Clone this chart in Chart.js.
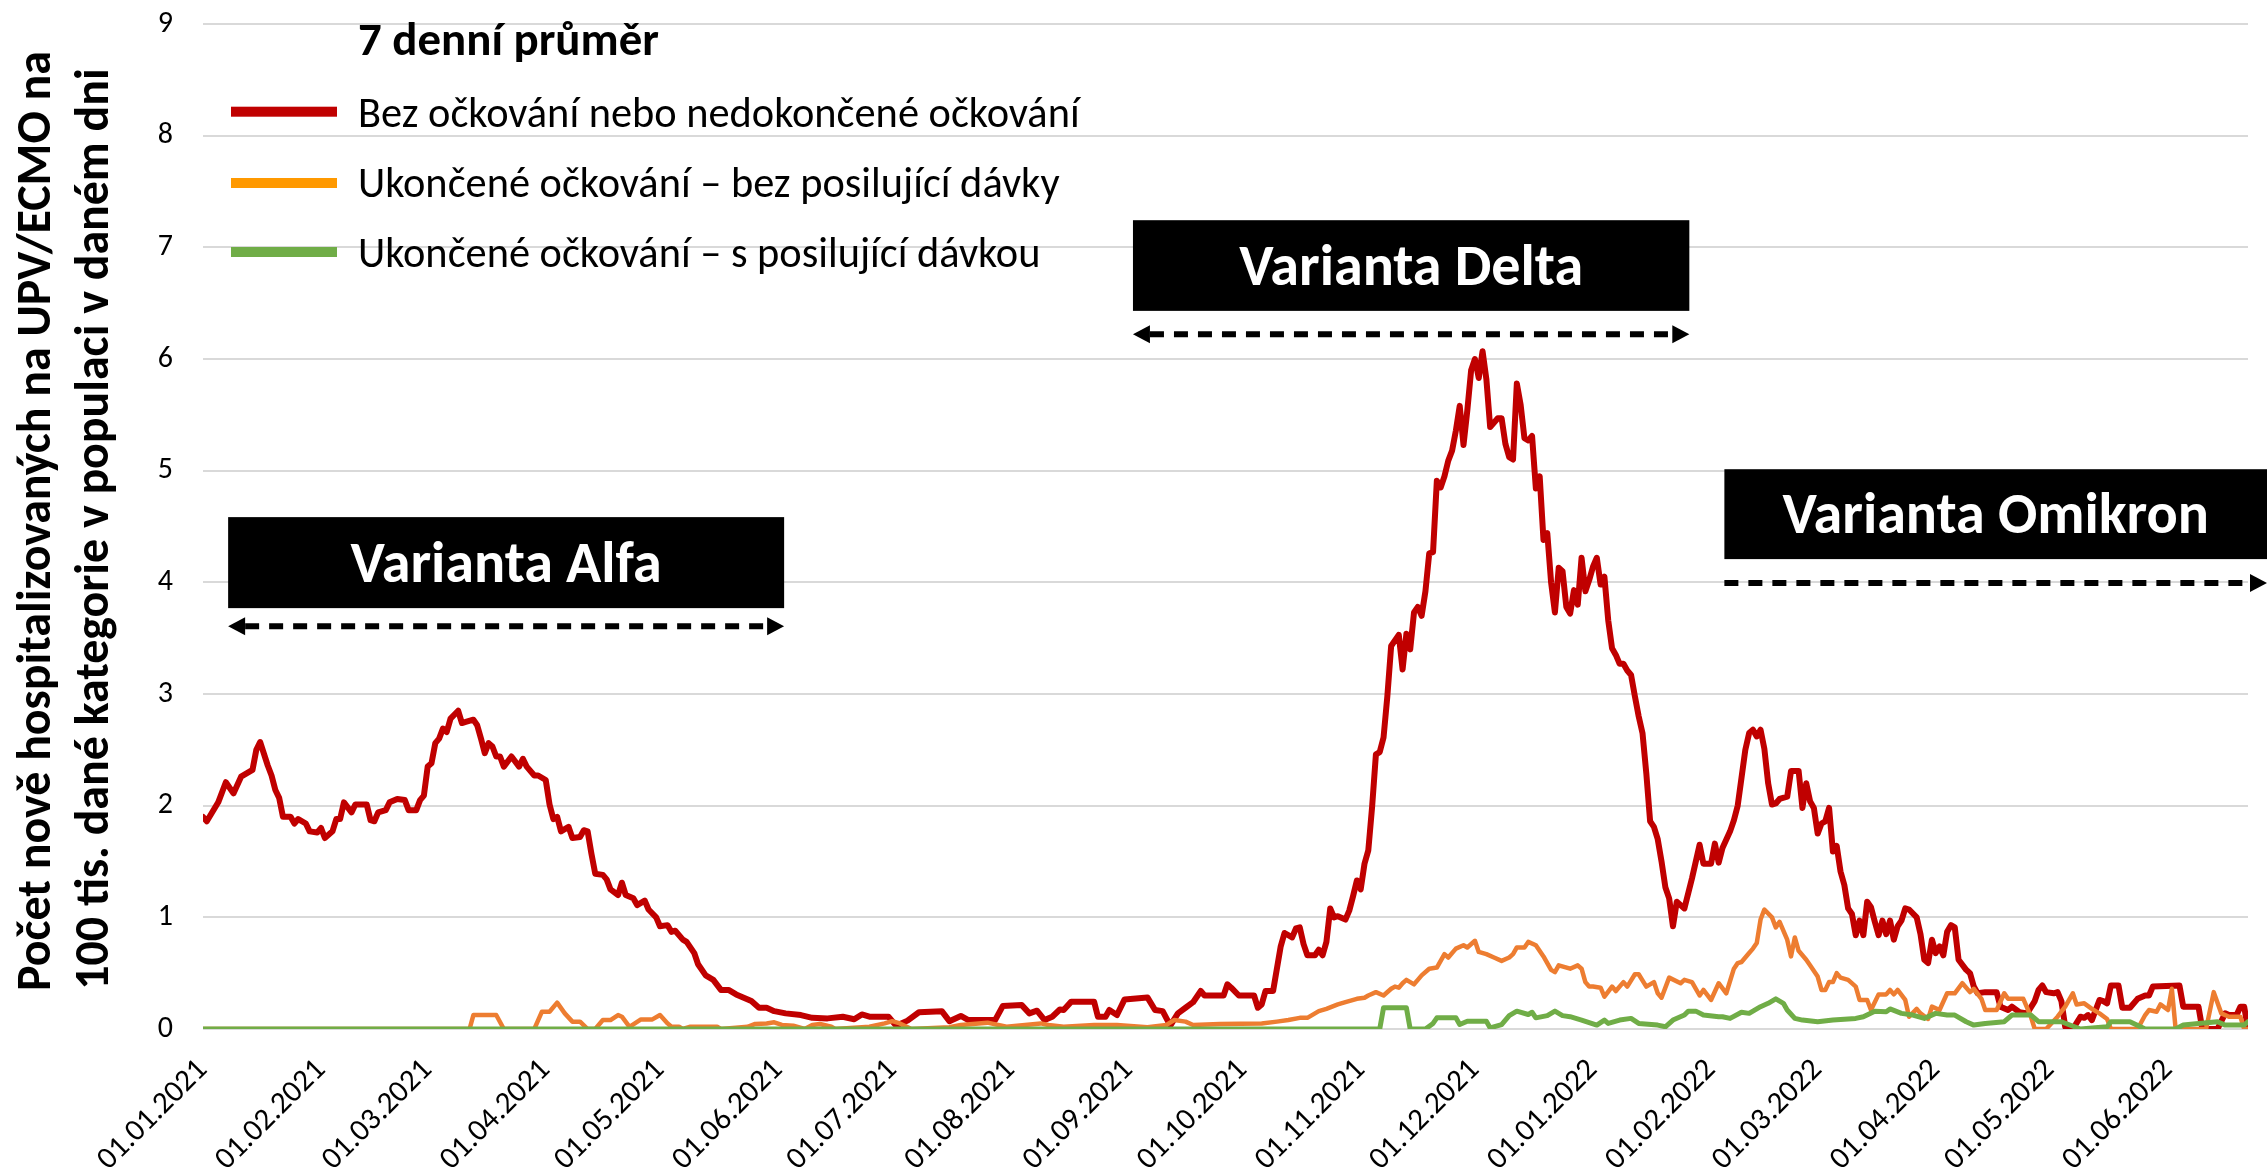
<!DOCTYPE html>
<html><head><meta charset="utf-8">
<script src="https://cdn.jsdelivr.net/npm/chart.js@4.4.1/dist/chart.umd.min.js"></script>
<style>html,body{margin:0;padding:0;background:#fff}canvas{display:block}</style>
</head><body>
<canvas id="c" width="2267" height="1175"></canvas>
<script>
// ---------- DATA ----------
const tickLabels = ['01.01.2021','01.02.2021','01.03.2021','01.04.2021','01.05.2021','01.06.2021','01.07.2021','01.08.2021','01.09.2021','01.10.2021','01.11.2021','01.12.2021','01.01.2022','01.02.2022','01.03.2022','01.04.2022','01.05.2022','01.06.2022'];
const lastDay = 537; // days after 01.01.2021 (about 21.06.2022)
const legendTitle = '7 denní průměr';
const seriesNames = ['Bez očkování nebo nedokončené očkování','Ukončené očkování – bez posilující dávky','Ukončené očkování – s posilující dávkou'];
const yTitle = ['Počet nově hospitalizovaných na UPV/ECMO na','100 tis. dané kategorie v populaci v daném dni'];
const variantNames = ['Varianta Alfa','Varianta Delta','Varianta Omikron'];
// [day since 01.01.2021, value]
const unvaccinated = [[0,1.90],[1,1.86],[4,2.03],[6,2.21],[8,2.11],[10,2.26],[13,2.32],[14,2.50],[15,2.57],[17,2.36],[18,2.27],[19,2.14],[20,2.07],[21,1.90],[23,1.90],[24,1.84],[25,1.88],[27,1.84],[28,1.77],[30,1.76],[31,1.80],[32,1.71],[34,1.77],[35,1.88],[36,1.88],[37,2.03],[39,1.94],[40,2.01],[43,2.01],[44,1.87],[45,1.86],[46,1.94],[48,1.96],[49,2.03],[51,2.06],[53,2.05],[54,1.96],[56,1.96],[57,2.05],[58,2.09],[59,2.35],[60,2.38],[61,2.56],[62,2.60],[63,2.69],[64,2.66],[65,2.78],[67,2.85],[68,2.74],[69,2.75],[71,2.77],[72,2.72],[73,2.60],[74,2.47],[75,2.56],[76,2.53],[77,2.44],[78,2.44],[79,2.35],[81,2.44],[83,2.35],[84,2.42],[85,2.35],[87,2.27],[88,2.27],[89,2.25],[90,2.23],[91,2.01],[92,1.88],[93,1.90],[94,1.77],[96,1.81],[97,1.71],[99,1.72],[100,1.78],[101,1.77],[102,1.57],[103,1.39],[105,1.38],[106,1.34],[107,1.25],[109,1.20],[110,1.31],[111,1.20],[113,1.17],[114,1.11],[116,1.15],[117,1.07],[119,1.00],[120,0.92],[122,0.93],[123,0.87],[124,0.88],[126,0.80],[127,0.78],[129,0.68],[130,0.58],[132,0.48],[134,0.44],[136,0.35],[138,0.35],[140,0.31],[142,0.28],[144,0.25],[146,0.19],[148,0.19],[150,0.16],[153,0.14],[157,0.125],[160,0.10],[164,0.095],[168,0.11],[171,0.087],[173,0.13],[175,0.11],[180,0.11],[182,0.03],[185,0.075],[188,0.15],[194,0.16],[196,0.07],[199,0.117],[201,0.08],[208,0.08],[210,0.205],[215,0.214],[217,0.14],[219,0.164],[221,0.08],[223,0.11],[225,0.175],[226,0.17],[228,0.245],[234,0.245],[235,0.11],[237,0.11],[238,0.17],[240,0.125],[242,0.265],[248,0.283],[250,0.17],[252,0.16],[254,0.03],[256,0.14],[258,0.19],[260,0.24],[262,0.34],[263,0.30],[268,0.30],[269,0.40],[270,0.37],[272,0.30],[276,0.30],[277,0.19],[278,0.22],[279,0.34],[281,0.34],[283,0.74],[284,0.86],[286,0.82],[287,0.90],[288,0.91],[289,0.76],[290,0.66],[292,0.66],[293,0.71],[294,0.66],[295,0.78],[296,1.08],[297,1.00],[298,1.01],[300,0.98],[301,1.06],[302,1.19],[303,1.33],[304,1.25],[305,1.48],[306,1.60],[307,1.99],[308,2.46],[309,2.48],[310,2.61],[311,2.98],[312,3.43],[314,3.53],[315,3.22],[316,3.54],[317,3.40],[318,3.73],[319,3.78],[320,3.70],[321,3.92],[322,4.26],[323,4.27],[324,4.91],[325,4.85],[326,4.95],[327,5.09],[328,5.18],[329,5.36],[330,5.58],[331,5.23],[332,5.54],[333,5.90],[334,6.00],[335,5.83],[336,6.07],[337,5.82],[338,5.39],[340,5.47],[341,5.47],[342,5.24],[343,5.12],[344,5.10],[345,5.78],[346,5.59],[347,5.29],[348,5.27],[349,5.31],[350,4.84],[351,4.95],[352,4.38],[353,4.44],[354,4.00],[355,3.73],[356,4.13],[357,4.10],[358,3.78],[359,3.72],[360,3.93],[361,3.80],[362,4.22],[363,3.92],[364,4.02],[365,4.14],[366,4.22],[367,3.98],[368,4.05],[369,3.66],[370,3.41],[371,3.35],[372,3.27],[373,3.27],[374,3.21],[375,3.17],[376,2.98],[377,2.80],[378,2.65],[379,2.29],[380,1.86],[381,1.81],[382,1.70],[383,1.50],[384,1.27],[385,1.17],[386,0.92],[387,1.14],[389,1.08],[391,1.35],[393,1.65],[394,1.48],[396,1.48],[397,1.66],[398,1.49],[399,1.62],[401,1.77],[402,1.87],[403,2.00],[404,2.25],[405,2.50],[406,2.65],[407,2.68],[408,2.62],[409,2.68],[410,2.51],[411,2.20],[412,2.01],[413,2.02],[414,2.06],[416,2.08],[417,2.31],[419,2.31],[420,1.98],[421,2.20],[422,2.04],[423,1.98],[424,1.75],[425,1.84],[426,1.86],[427,1.98],[428,1.59],[429,1.64],[430,1.41],[431,1.29],[432,1.08],[433,1.03],[434,0.84],[435,0.97],[436,0.84],[437,1.14],[438,1.09],[439,0.96],[440,0.84],[441,0.97],[442,0.85],[443,0.97],[444,0.80],[445,0.92],[446,0.97],[447,1.08],[448,1.07],[450,1.00],[451,0.85],[452,0.62],[453,0.59],[454,0.80],[455,0.68],[456,0.74],[457,0.66],[458,0.87],[459,0.93],[460,0.91],[461,0.62],[463,0.53],[464,0.50],[465,0.38],[466,0.32],[468,0.33],[471,0.33],[472,0.20],[474,0.17],[475,0.20],[477,0.15],[479,0.14],[481,0.25],[482,0.35],[483,0.39],[484,0.33],[486,0.32],[487,0.33],[488,0.25],[489,0.02],[491,0.0],[493,0.11],[494,0.10],[495,0.125],[496,0.08],[498,0.26],[499,0.25],[500,0.23],[501,0.39],[503,0.39],[504,0.19],[506,0.19],[508,0.27],[510,0.30],[511,0.30],[512,0.38],[519,0.39],[520,0.20],[524,0.20],[525,0.0],[529,0.0],[531,0.14],[532,0.125],[534,0.125],[535,0.20],[536,0.20],[537,0.0]];
const noBooster = [[0,0],[70,0],[71,0.125],[77,0.125],[79,0],[87,0],[89,0.155],[91,0.155],[93,0.236],[95,0.14],[97,0.066],[99,0.066],[101,0],[103,0],[105,0.08],[107,0.08],[109,0.125],[110,0.11],[112,0.02],[115,0.086],[118,0.086],[120,0.125],[122,0.05],[123,0.02],[125,0.02],[126,0],[128,0.02],[135,0.02],[136,0],[143,0.02],[145,0.045],[148,0.05],[150,0.06],[152,0.036],[155,0.03],[158,0],[160,0.036],[162,0.045],[165,0.02],[166,0],[175,0.02],[179,0.05],[181,0.07],[183,0.05],[186,0],[196,0.015],[199,0.036],[206,0.057],[211,0.02],[220,0.05],[222,0.036],[226,0.02],[234,0.036],[240,0.036],[248,0.015],[253,0.036],[255,0.08],[258,0.066],[260,0.036],[267,0.045],[278,0.05],[282,0.066],[285,0.08],[288,0.10],[290,0.10],[292,0.14],[293,0.16],[295,0.18],[298,0.22],[300,0.24],[303,0.27],[305,0.28],[306,0.30],[308,0.33],[310,0.30],[312,0.36],[313,0.38],[314,0.37],[315,0.41],[316,0.44],[318,0.40],[319,0.44],[320,0.48],[322,0.54],[324,0.55],[326,0.67],[327,0.64],[329,0.72],[331,0.75],[332,0.73],[334,0.79],[335,0.69],[337,0.67],[339,0.64],[341,0.61],[343,0.64],[344,0.67],[345,0.73],[347,0.73],[348,0.78],[350,0.75],[352,0.65],[354,0.53],[355,0.51],[356,0.57],[359,0.54],[361,0.57],[362,0.54],[363,0.42],[364,0.38],[365,0.38],[367,0.37],[368,0.29],[370,0.38],[371,0.34],[373,0.42],[374,0.38],[376,0.49],[377,0.49],[379,0.38],[381,0.42],[382,0.32],[383,0.28],[385,0.46],[388,0.41],[389,0.44],[391,0.42],[393,0.30],[394,0.35],[396,0.26],[398,0.41],[400,0.32],[402,0.54],[403,0.59],[404,0.60],[406,0.68],[407,0.72],[408,0.77],[409,0.98],[410,1.07],[412,1.00],[413,0.91],[414,0.96],[416,0.80],[417,0.65],[418,0.82],[419,0.70],[421,0.62],[422,0.57],[424,0.47],[425,0.35],[426,0.35],[427,0.42],[428,0.42],[429,0.50],[430,0.46],[432,0.44],[434,0.38],[435,0.26],[437,0.26],[438,0.17],[440,0.31],[442,0.31],[443,0.35],[444,0.31],[445,0.35],[447,0.26],[448,0.11],[450,0.18],[451,0.14],[453,0.09],[454,0.20],[456,0.17],[458,0.32],[460,0.32],[462,0.41],[464,0.33],[465,0.36],[467,0.27],[468,0.17],[471,0.17],[473,0.32],[474,0.27],[478,0.27],[480,0.11],[481,0],[484,0],[487,0.11],[489,0.20],[491,0.32],[492,0.22],[494,0.23],[496,0.18],[498,0.14],[500,0.09],[501,0],[508,0],[510,0.125],[511,0.17],[513,0.155],[514,0.22],[516,0.17],[517,0.36],[518,0],[526,0],[528,0.33],[530,0.14],[532,0.11],[535,0.11],[536,0],[537,0]];
const withBooster = [[0,0],[309,0],[310,0.19],[316,0.19],[317,0],[321,0],[323,0.05],[324,0.10],[329,0.10],[330,0.04],[332,0.07],[337,0.07],[338,0.01],[341,0.04],[343,0.12],[345,0.16],[348,0.13],[349,0.15],[350,0.10],[353,0.12],[355,0.16],[357,0.12],[359,0.11],[362,0.08],[366,0.035],[368,0.08],[369,0.05],[372,0.08],[375,0.095],[377,0.05],[382,0.035],[384,0.02],[386,0.08],[389,0.125],[390,0.16],[392,0.16],[394,0.125],[398,0.11],[399,0.11],[401,0.095],[404,0.15],[406,0.14],[409,0.20],[411,0.23],[413,0.27],[415,0.23],[416,0.17],[418,0.095],[420,0.08],[424,0.065],[428,0.08],[430,0.085],[434,0.095],[436,0.11],[439,0.16],[442,0.155],[443,0.18],[446,0.14],[449,0.125],[452,0.095],[455,0.14],[458,0.125],[460,0.125],[463,0.065],[465,0.035],[468,0.05],[473,0.065],[475,0.125],[480,0.125],[482,0.065],[488,0.065],[493,0],[500,0.02],[501,0.065],[506,0.065],[510,0],[518,0],[520,0.035],[524,0.05],[529,0.065],[531,0.035],[536,0.035],[537,0.065]];

// ---------- STYLE ----------
const lineColors = ['#C00000','#ED7D31','#70AD47'];
const legendColors = ['#C00000','#FF9900','#70AD47'];
const CAL = "Carlito, Lato, sans-serif";

const day0 = Date.UTC(2021,0,1);
const tickDays = tickLabels.map(s => { const [d,m,y] = s.split('.').map(Number); return Math.round((Date.UTC(y,m-1,d)-day0)/86400000); });

function fitSize(ctx, text, weight, fam, target){
  ctx.font = `${weight} 100px ${fam}`;
  return 100*target/ctx.measureText(text).width;
}

// annotation boxes in data units (x: day, y: value)
const variants = [
  {x1:6.6, x2:152.6, top:4.584, bottom:3.769, arrowY:3.606, leftHead:true, rightHead:true, toEdge:false},
  {x1:244.2, x2:390.3, top:7.243, bottom:6.431, arrowY:6.222, leftHead:true, rightHead:true, toEdge:false},
  {x1:399.5, x2:null, top:5.013, bottom:4.208, arrowY:3.993, leftHead:false, rightHead:true, toEdge:true}
];

function drawArrow(ctx, xa, xb, yy, lh, rh){
  const hl = 17, hw = 9;
  ctx.save();
  ctx.strokeStyle = '#000'; ctx.fillStyle = '#000'; ctx.lineWidth = 6;
  ctx.setLineDash([14,10]);
  ctx.beginPath();
  ctx.moveTo(xa + (lh ? hl : 0), yy);
  ctx.lineTo(xb - (rh ? hl : 0), yy);
  ctx.stroke();
  ctx.setLineDash([]);
  if (lh){ ctx.beginPath(); ctx.moveTo(xa, yy); ctx.lineTo(xa+hl, yy-hw); ctx.lineTo(xa+hl, yy+hw); ctx.closePath(); ctx.fill(); }
  if (rh){ ctx.beginPath(); ctx.moveTo(xb, yy); ctx.lineTo(xb-hl, yy-hw); ctx.lineTo(xb-hl, yy+hw); ctx.closePath(); ctx.fill(); }
  ctx.restore();
}

const decor = {
  id:'decor',
  afterDraw(chart){
    const {ctx, scales:{x, y}} = chart;
    ctx.save();
    // Y axis title (two rotated lines, Calibri-like bold, widened glyphs as in the source)
    const ts = fitSize(ctx, yTitle[0], 'bold', CAL, 940);
    const hScale = 31/(0.644*ts);
    ctx.font = `bold ${ts}px ${CAL}`;
    ctx.fillStyle = '#000'; ctx.textAlign = 'center'; ctx.textBaseline = 'alphabetic';
    [[50, 521, yTitle[0]],[108, 529, yTitle[1]]].forEach(([bx,cy,t]) => {
      ctx.save(); ctx.translate(bx, cy); ctx.rotate(-Math.PI/2); ctx.scale(1, hScale); ctx.fillText(t,0,0); ctx.restore();
    });
    // Legend
    ctx.textAlign = 'left';
    const lt = fitSize(ctx, legendTitle, 'bold', CAL, 301);
    ctx.font = `bold ${lt}px ${CAL}`;
    ctx.fillText(legendTitle, 358, 55);
    const ls = fitSize(ctx, seriesNames[0], 'normal', CAL, 722);
    ctx.font = `normal ${ls}px ${CAL}`;
    const rowsLine = [111.7, 183, 252], rowsText = [127, 197, 267];
    seriesNames.forEach((n,i) => {
      ctx.fillStyle = legendColors[i];
      ctx.fillRect(231, rowsLine[i]-5, 106, 10);
      ctx.fillStyle = '#000';
      ctx.fillText(n, 358, rowsText[i]);
    });
    // Variant boxes with dashed arrows
    const vs = fitSize(ctx, variantNames[1], 'bold', CAL, 344);
    variants.forEach((v,i) => {
      const xa = x.getPixelForValue(v.x1);
      const xb = v.toEdge ? chart.width : x.getPixelForValue(v.x2);
      const ya = y.getPixelForValue(v.top), yb = y.getPixelForValue(v.bottom);
      ctx.fillStyle = '#000';
      ctx.fillRect(xa, ya, xb-xa, yb-ya);
      ctx.fillStyle = '#fff';
      ctx.font = `bold ${vs}px ${CAL}`;
      ctx.textAlign = 'center'; ctx.textBaseline = 'alphabetic';
      const m = ctx.measureText('V');
      ctx.fillText(variantNames[i], (xa+xb)/2, (ya+yb)/2 + m.actualBoundingBoxAscent/2);
      drawArrow(ctx, xa, xb, y.getPixelForValue(v.arrowY), v.leftHead, v.rightHead);
    });
    ctx.restore();
  }
};

const mk = (arr, i, order, w) => ({
  label: seriesNames[i], data: arr, borderColor: lineColors[i], backgroundColor: lineColors[i],
  borderWidth: w, pointRadius: 0, tension: 0, fill: false, order, clip: 0,
  borderJoinStyle: 'round', borderCapStyle: 'round'
});

new Chart(document.getElementById('c'), {
  type: 'line',
  data: { datasets: [ mk(withBooster, 2, 0, 5), mk(noBooster, 1, 1, 4.5), mk(unvaccinated, 0, 2, 6) ] },
  options: {
    responsive: false, animation: false, devicePixelRatio: 1,
    layout: { padding: { top: 24, right: 19, left: 0, bottom: 0 } },
    plugins: { legend: { display: false }, tooltip: { enabled: false } },
    scales: {
      x: {
        type: 'linear', min: 0, max: lastDay,
        afterBuildTicks: s => { s.ticks = tickDays.map(v => ({ value: v })); },
        afterFit: s => { s.height = 146; s.paddingLeft = 0; s.paddingRight = 0; },
        grid: { display: false, drawTicks: false },
        border: { display: false },
        ticks: {
          autoSkip: false, maxRotation: 45, minRotation: 45, padding: 23,
          color: '#000', font: { family: CAL, size: 31 },
          callback: v => { const i = tickDays.indexOf(v); return i >= 0 ? tickLabels[i] : ''; }
        }
      },
      y: {
        min: 0, max: 9,
        afterFit: s => { s.width = 203; s.paddingTop = 0; s.paddingBottom = 0; },
        grid: { color: '#D9D9D9', lineWidth: 2, drawTicks: false },
        border: { display: false },
        ticks: { stepSize: 1, padding: 30, color: '#000', font: { family: CAL, size: 30 } }
      }
    }
  },
  plugins: [decor]
});
</script>
</body></html>
